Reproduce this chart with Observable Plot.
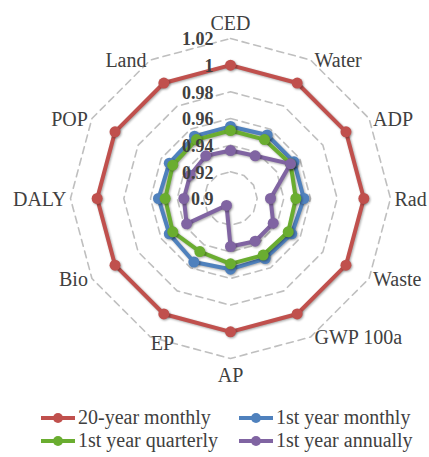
<!DOCTYPE html>
<html><head><meta charset="utf-8">
<script src="https://cdn.jsdelivr.net/npm/d3@7"></script>
<script src="https://cdn.jsdelivr.net/npm/@observablehq/plot@0.6"></script>
<style>
body{margin:0;background:#fff;font-family:"Liberation Serif","Times New Roman",serif;}
#wrap{position:relative;width:429px;height:457px;overflow:hidden;}
#chart svg{display:block;}
#chart g.series{filter:drop-shadow(1.5px 1.5px 1.2px rgba(0,0,0,0.35));}
.legend{position:absolute;left:0;top:406px;width:429px;font-size:20px;color:#404040;}
.item{position:absolute;display:flex;align-items:center;height:23px;white-space:nowrap;}
.item svg{margin-right:2px;}
</style></head><body><div id="wrap"><div id="chart"></div><div class="legend" id="legend"></div></div>
<script>
const categories = ["CED","Water","ADP","Rad","Waste","GWP 100a","AP","EP","Bio","DALY","POP","Land"];
const seriesNames = ["20-year monthly","1st year monthly","1st year quarterly","1st year annually"];
const monthly20 = [1.0,1.0,1.0,1.0,1.0,1.0,1.0,1.0,1.0,1.0,1.0,1.0];
const monthly1 = [0.954,0.955,0.955,0.955,0.953,0.952,0.953,0.955,0.953,0.954,0.953,0.954];
const quarterly1 = [0.951,0.951,0.952,0.949,0.950,0.949,0.949,0.946,0.950,0.949,0.950,0.951];
const annually1 = [0.936,0.937,0.952,0.930,0.937,0.937,0.936,0.906,0.938,0.935,0.935,0.937];
const tickValues = [0.9,0.92,0.94,0.96,0.98,1.0,1.02];
const tickLabels = ["0.9","0.92","0.94","0.96","0.98","1","1.02"];
const colors = ["#C0504D","#4F81BD","#6AAD30","#8064A2"];

const seriesValues = [monthly20, monthly1, quarterly1, annually1];
const rMin = tickValues[0], rMax = tickValues[tickValues.length-1];
const n = categories.length;
const ang = i => 2*Math.PI*i/n;
const px = d => (d.value - rMin)*Math.sin(ang(d.i));
const py = d => (d.value - rMin)*Math.cos(ang(d.i));

const points = [];
seriesValues.forEach((vals, s) => vals.forEach((v, i) => points.push({series: seriesNames[s], s, i, value: v})));
const rings = [];
tickValues.slice(1).forEach(t => categories.forEach((c, i) => rings.push({tick: t, i, value: t})));
const labels = categories.map((c, i) => ({label: c, i, value: rMax}));
const ticks = tickValues.map((t, k) => ({label: tickLabels[k], value: t}));

const span = rMax - rMin;
const cx = 230, cy = 198, R = 160;
const side = d => {
  const s = Math.sin(ang(d.i)), c = Math.cos(ang(d.i));
  if (s < -0.1 && c < -0.8) return "lowleft";
  return s > 0.1 ? "right" : s < -0.1 ? "left" : (c > 0 ? "top" : "bottom");
};
const textStyle = {fontSize: 20, fill: "#404040", fontFamily: "Liberation Serif, Times New Roman, serif"};

const marks = [
  Plot.line(rings, {x: px, y: py, z: "tick", curve: "linear-closed", stroke: "#BFBFBF", strokeWidth: 1.6, strokeDasharray: "7,5"}),
];
seriesNames.forEach((name, s) => {
  const data = points.filter(d => d.s === s);
  marks.push(Plot.line(data, {x: px, y: py, curve: "linear-closed", stroke: colors[s], strokeWidth: 4, className: "series"}));
  marks.push(Plot.dot(data, {x: px, y: py, r: 5.5, fill: colors[s], stroke: "none", className: "series"}));
});
marks.push(
  Plot.text(labels.filter(d => side(d) === "right"), {x: px, y: py, text: "label", textAnchor: "start", dx: 4, dy: 1, ...textStyle}),
  Plot.text(labels.filter(d => side(d) === "left"), {x: px, y: py, text: "label", textAnchor: "end", dx: -4, dy: 1, ...textStyle}),
  Plot.text(labels.filter(d => side(d) === "lowleft"), {x: px, y: py, text: "label", textAnchor: "middle", dx: 12, dy: 7, ...textStyle}),
  Plot.text(labels.filter(d => side(d) === "top"), {x: px, y: py, text: "label", lineAnchor: "bottom", dy: -9, ...textStyle}),
  Plot.text(labels.filter(d => side(d) === "bottom"), {x: px, y: py, text: "label", lineAnchor: "top", dy: 9, ...textStyle}),
  Plot.text(ticks, {x: 0, y: d => d.value - rMin, text: "label", textAnchor: "end", dx: -17, dy: 1, fontSize: 18, fontWeight: "bold", fill: "#404040", fontFamily: "Liberation Serif, Times New Roman, serif"})
);

const chart = Plot.plot({
  width: 429, height: 400,
  margin: 0,
  x: {domain: [-span, span], range: [cx - R, cx + R], axis: null},
  y: {domain: [-span, span], range: [cy + R, cy - R], axis: null},
  style: {background: "transparent", overflow: "visible"},
  marks
});
document.getElementById("chart").appendChild(chart);

const legend = document.getElementById("legend");
const pos = [[40,0],[238,0],[40,23],[238,23]];
seriesNames.forEach((name, s) => {
  const it = document.createElement("div");
  it.className = "item";
  it.style.left = pos[s][0] + "px";
  it.style.top = pos[s][1] + "px";
  it.innerHTML = `<svg width="36" height="12"><line x1="1" x2="35" y1="6" y2="6" stroke="${colors[s]}" stroke-width="4"/><circle cx="18" cy="6" r="5" fill="${colors[s]}"/></svg><span>${name}</span>`;
  legend.appendChild(it);
});
</script></body></html>
